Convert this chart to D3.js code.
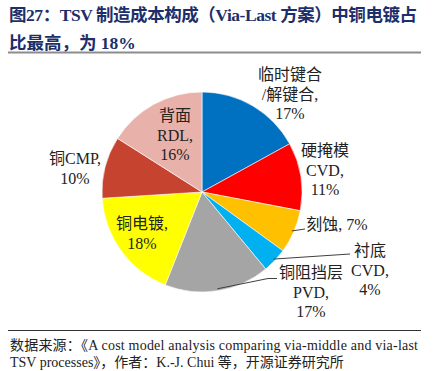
<!DOCTYPE html>
<html>
<head>
<meta charset="utf-8">
<script src="https://cdn.jsdelivr.net/npm/d3@7/dist/d3.min.js"></script>
<style>
  html, body { margin: 0; padding: 0; background: #fff; }
  svg { display: block; }
  text { font-family: "Liberation Serif", "Noto Sans CJK SC", serif; }
</style>
</head>
<body>
<svg id="chart" width="433" height="371"></svg>
<script>
  'use strict';

  // categories, clockwise from 12 o'clock
  var categories = ['临时键合/解键合', '硬掩模CVD', '刻蚀', '衬底CVD', '铜阻挡层PVD', '铜电镀', '铜CMP', '背面RDL'];
  var shares = [17, 11, 7, 4, 17, 18, 10, 16];
  var colors = ['#0070C0', '#FF0000', '#FFC000', '#00B0F0', '#A5A5A5', '#FFFF00', '#C5432F', '#E8B2AA'];

  // label lines for each slice
  var labelLines = [
    ['临时键合', '/解键合,', '17%'],
    ['硬掩模', 'CVD,', '11%'],
    ['刻蚀, 7%'],
    ['衬底', 'CVD,', '4%'],
    ['铜阻挡层', 'PVD,', '17%'],
    ['铜电镀,', '18%'],
    ['铜CMP,', '10%'],
    ['背面', 'RDL,', '16%']
  ];

  var titleLines = ['图27：TSV 制造成本构成（Via-Last 方案）中铜电镀占', '比最高，为 18%'];
  var sourceLines = [
    '数据来源：《A cost model analysis comparing via-middle and via-last',
    'TSV processes》，作者：K.-J. Chui 等，开源证券研究所'
  ];

  var layout = {
    cx: 202, cy: 192, r: 100,
    lineH: 19.5,
    // label anchor (center x, first baseline y) and leader bend points
    labels: [
      { x: 290, y: 80 },
      { x: 325, y: 156 },
      { x: 337, y: 230, leader: [[305, 229]] },
      { x: 370, y: 256, leader: [[350, 254]] },
      { x: 311, y: 278, leader: [[268, 278.5], [277, 278.5]] },
      { x: 142, y: 229 },
      { x: 75, y: 164 },
      { x: 175, y: 121 }
    ]
  };

  var svg = d3.select('#chart');

  // title
  svg.selectAll('text.title')
    .data(titleLines)
    .enter().append('text')
    .attr('class', 'title')
    .attr('x', 9)
    .attr('y', function(d, i) { return 21 + i * 28; })
    .attr('font-size', 17.5)
    .attr('font-weight', 'bold')
    .attr('fill', '#1C2F6A')
    .attr('textLength', function(d, i) { return i === 0 ? 408 : null; })
    .text(function(d) { return d; });
  svg.append('line')
    .attr('x1', 8).attr('x2', 421)
    .attr('y1', 52.5).attr('y2', 52.5)
    .attr('stroke', '#8c8c8c').attr('stroke-width', 2);

  // pie
  var pie = d3.pie().sort(null).value(function(d) { return d; });
  var arcs = pie(shares);
  var arc = d3.arc().innerRadius(0).outerRadius(layout.r);

  var g = svg.append('g')
    .attr('transform', 'translate(' + layout.cx + ',' + layout.cy + ')');

  g.selectAll('path.slice')
    .data(arcs)
    .enter().append('path')
    .attr('class', 'slice')
    .attr('d', arc)
    .attr('fill', function(d, i) { return colors[i]; })
    .attr('stroke', '#fff')
    .attr('stroke-width', 0.6);

  // leader lines from the slice edge to the label
  var line = d3.line();
  arcs.forEach(function(d, i) {
    var lab = layout.labels[i];
    if (!lab.leader) { return; }
    var a = (d.startAngle + d.endAngle) / 2,
        start = [layout.cx + Math.sin(a) * layout.r * 0.98,
                 layout.cy - Math.cos(a) * layout.r * 0.98];
    svg.append('path')
      .attr('d', line([start].concat(lab.leader)))
      .attr('fill', 'none')
      .attr('stroke', '#404040').attr('stroke-width', 1);
  });

  // labels
  labelLines.forEach(function(lines, i) {
    var lab = layout.labels[i];
    var t = svg.append('text')
      .attr('text-anchor', 'middle')
      .attr('font-size', 16)
      .attr('fill', '#222');
    lines.forEach(function(s, j) {
      t.append('tspan')
        .attr('x', lab.x)
        .attr('y', lab.y + j * layout.lineH)
        .text(s);
    });
  });

  // source
  svg.append('line')
    .attr('x1', 8).attr('x2', 421)
    .attr('y1', 330.5).attr('y2', 330.5)
    .attr('stroke', '#333').attr('stroke-width', 1);
  svg.selectAll('text.source')
    .data(sourceLines)
    .enter().append('text')
    .attr('class', 'source')
    .attr('x', 10)
    .attr('y', function(d, i) { return 350 + i * 17; })
    .attr('font-size', 14)
    .attr('fill', '#222')
    .attr('textLength', function(d, i) { return i === 0 ? 408 : null; })
    .text(function(d) { return d; });
</script>
</body>
</html>
